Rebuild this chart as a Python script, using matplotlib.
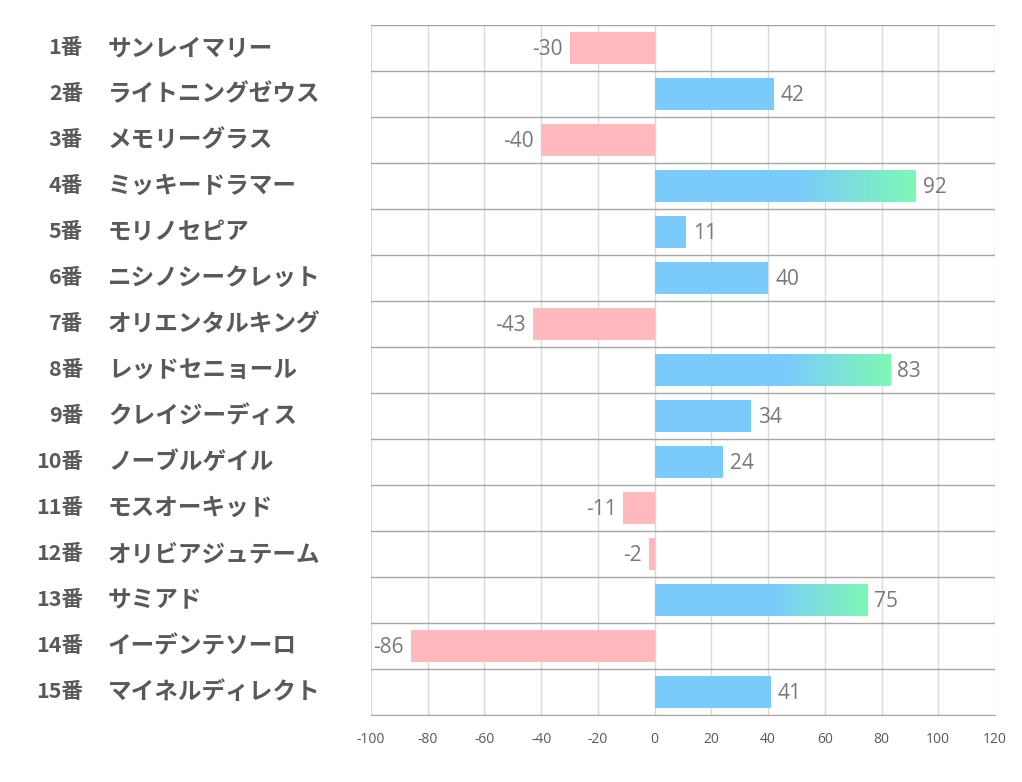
import matplotlib
matplotlib.use("Agg")
import matplotlib.pyplot as plt
import matplotlib.transforms as mtransforms
from matplotlib.colors import LinearSegmentedColormap
import numpy as np

plt.rcParams['font.family'] = ['Noto Sans CJK JP', 'DejaVu Sans']

numbers = ["1番", "2番", "3番", "4番", "5番", "6番", "7番", "8番", "9番", "10番",
           "11番", "12番", "13番", "14番", "15番"]
names = ["サンレイマリー", "ライトニングゼウス", "メモリーグラス", "ミッキードラマー", "モリノセピア",
         "ニシノシークレット", "オリエンタルキング", "レッドセニョール", "クレイジーディス", "ノーブルゲイル",
         "モスオーキッド", "オリビアジュテーム", "サミアド", "イーデンテソーロ", "マイネルディレクト"]
values = [-30, 42, -40, 92, 11, 40, -43, 83, 34, 24, -11, -2, 75, -86, 41]
xticks = [-100, -80, -60, -40, -20, 0, 20, 40, 60, 80, 100, 120]

pink = "#FFB9BD"
blue = "#7ACBFC"
green = "#7FF8B5"

fig = plt.figure(figsize=(10.22, 7.82), dpi=100)
ax = fig.add_axes([371/1022, 1-715/782, (995-371)/1022, (715-25)/782])

h = 0.69
n = len(values)
ys = np.arange(n)
cmap = LinearSegmentedColormap.from_list("bg", [blue, green])
t = np.linspace(0, 1, 512)
grad = np.clip((t - 0.55) / 0.45, 0, 1).reshape(1, -1)

for y, v in zip(ys, values):
    col = blue if v > 0 else pink
    if v >= 60:
        ax.imshow(grad, cmap=cmap, vmin=0, vmax=1, aspect='auto', zorder=3,
                  extent=(0, v, y+h/2, y-h/2), interpolation='bilinear')
    else:
        ax.barh(y, v, height=h, color=col, zorder=2, linewidth=0)
    if v >= 0:
        ax.annotate(str(v), (v, y), xytext=(5, -1), textcoords='offset points',
                    ha='left', va='center', fontsize=15, color='#787878',
                    family=['Open Sans', 'DejaVu Sans'])
    else:
        ax.annotate(str(v), (v, y), xytext=(-5, -1), textcoords='offset points',
                    ha='right', va='center', fontsize=15, color='#787878',
                    family=['Open Sans', 'DejaVu Sans'])

ax.set_xlim(-100, 120)
ax.set_ylim(n-0.5, -0.5)
ax.set_xticks(xticks)
ax.set_xticklabels([str(t) for t in xticks], fontsize=10, color='#595959',
                   family=['Open Sans', 'DejaVu Sans'])
ax.set_yticks([])
ax.set_yticks(np.arange(-0.5, n, 1), minor=True)
ax.tick_params(axis='y', which='both', length=0, labelleft=False)
ax.tick_params(axis='x', length=0, pad=12)
ax.grid(axis='x', color='#D9D9D9', linewidth=1, zorder=0)
ax.grid(axis='y', which='minor', color='#A6A6A6', linewidth=1, zorder=0)
ax.set_axisbelow(True)
for s in ['top', 'right', 'left']:
    ax.spines[s].set_visible(False)
ax.spines['bottom'].set_color('#A6A6A6')

trans = mtransforms.blended_transform_factory(fig.transFigure, ax.transData)
for y, num, nm in zip(ys, numbers, names):
    fig.text(83/1022, y, num, transform=trans, ha='right', va='center',
             fontsize=15.5, fontweight='bold', color='#595959')
    fig.text(108/1022, y, nm, transform=trans, ha='left', va='center',
             fontsize=17, fontweight='bold', color='#595959')

fig.savefig("out.png", dpi=100, facecolor='white')
